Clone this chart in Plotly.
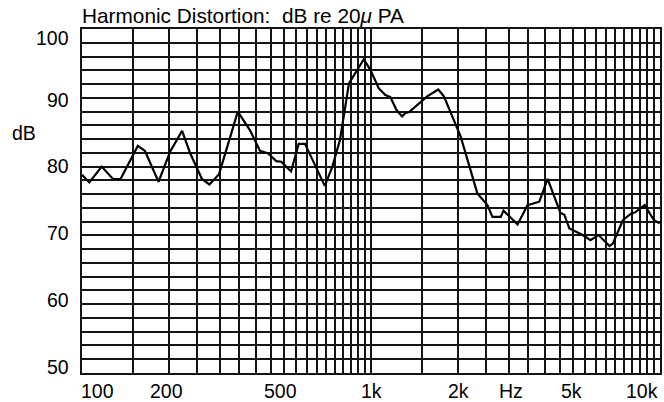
import plotly.graph_objects as go
import math

# Harmonic distortion curve
freq_hz = [100, 106, 117, 128, 136, 156, 165, 184, 202, 222, 237, 260, 276, 298,
           346, 381, 413, 441, 470, 489, 529, 562, 591, 692, 735, 781, 839, 944, 994,
           1063, 1121, 1167, 1224, 1281, 1316, 1352, 1565, 1709, 1788, 2042, 2334,
           2528, 2631, 2812, 2873, 3213, 3480, 3823, 4085, 4330, 4521, 4668, 4859,
           5403, 5746, 6127, 6690, 6868, 7440, 7951, 8210, 8849, 9532, 9980]
level_db = [78.8, 77.7, 80.0, 78.2, 78.2, 83.0, 82.3, 77.8, 82.2, 85.2, 81.9, 78.2,
            77.4, 78.9, 88.0, 85.3, 82.3, 81.9, 80.8, 80.7, 79.3, 83.3, 83.3, 77.2,
            80.0, 83.9, 92.1, 95.6, 94.1, 91.4, 90.4, 90.1, 88.25, 87.3, 87.8, 87.9,
            90.2, 91.2, 90.2, 84.4, 76.1, 74.4, 72.7, 72.7, 73.6, 71.6, 74.4, 74.9,
            78.2, 75.4, 73.3, 73.0, 71.0, 70.05, 69.3, 70.05, 68.45, 68.8, 72.2, 73.2,
            73.35, 74.4, 72.2, 71.75]

# Axis labels
x_tick_vals = [100, 200, 500, 1000, 2000, 3000, 5000, 10000]
x_tick_text = ["100", "200", "500", "1k", "2k", "Hz", "5k", "10k"]
y_tick_vals = [100, 90, 80, 70, 60, 50]
y_tick_text = ["100", "90", "80", "70", "60", "50"]

# Grid positions
x_grid = list(range(150, 1001, 50)) + list(range(1500, 10000, 500))
y_grid = list(range(52, 100, 2))

title_text = "Harmonic Distortion:\u00a0\u00a0dB re 20<i>\u03bc</i> PA"
y_unit = "dB"

FONT = "Liberation Sans, Arial, Helvetica, sans-serif"
FS = 19.5

fig = go.Figure()
fig.add_trace(go.Scatter(x=freq_hz, y=level_db, mode="lines",
                         line=dict(color="black", width=2.2), hoverinfo="skip"))

fig.update_layout(
    width=664, height=402,
    margin=dict(l=82, r=2, t=29, b=29),
    paper_bgcolor="white", plot_bgcolor="white",
    showlegend=False,
    font=dict(family=FONT, size=FS, color="black"),
)
fig.update_xaxes(type="log", range=[2, 4], tickvals=x_grid, showticklabels=False,
                 ticks="", showgrid=True, gridcolor="#141414", gridwidth=1.5,
                 showline=True, mirror=True, linecolor="#141414", linewidth=1.7,
                 zeroline=False)
fig.update_yaxes(range=[50, 100], tickvals=y_grid, showticklabels=False,
                 ticks="", showgrid=True, gridcolor="#141414", gridwidth=1.5,
                 showline=True, mirror=True, linecolor="#141414", linewidth=1.7,
                 zeroline=False)

# x labels: small per-label offsets as in the reference
x_shift = {"100": -2.7, "200": -3, "500": -4, "1k": 0.5, "2k": 0.7, "Hz": 1.7, "5k": -2, "10k": 0}
x_anchor = {"100": "left", "10k": "right"}
for v, t in zip(x_tick_vals, x_tick_text):
    fig.add_annotation(x=math.log10(v), xref="x", y=0, yref="paper", text=t,
                       showarrow=False, xanchor=x_anchor.get(t, "center"),
                       yanchor="middle", xshift=x_shift[t], yshift=-17.6,
                       font=dict(family=FONT, size=FS))

y_shift = {"100": -9.4, "90": -2, "80": 0.3, "70": 2.2, "60": 4, "50": 6.4}
for v, t in zip(y_tick_vals, y_tick_text):
    fig.add_annotation(x=0, xref="paper", y=v, yref="y", text=t, showarrow=False,
                       xanchor="right", yanchor="middle", xshift=-11.3,
                       yshift=y_shift[t], font=dict(family=FONT, size=FS))

fig.add_annotation(x=0, xref="paper", y=84.9, yref="y", text=y_unit, showarrow=False,
                   xanchor="center", yanchor="middle", xshift=-57.8,
                   font=dict(family=FONT, size=FS))

fig.add_annotation(x=0, xref="paper", y=1, yref="paper", text=title_text,
                   showarrow=False, xanchor="left", yanchor="middle",
                   xshift=-2, yshift=13.5, font=dict(family=FONT, size=20.8))

fig.write_html("out.html", config={"displayModeBar": False},
               post_script="document.body.style.margin='0';document.body.style.padding='0';")
